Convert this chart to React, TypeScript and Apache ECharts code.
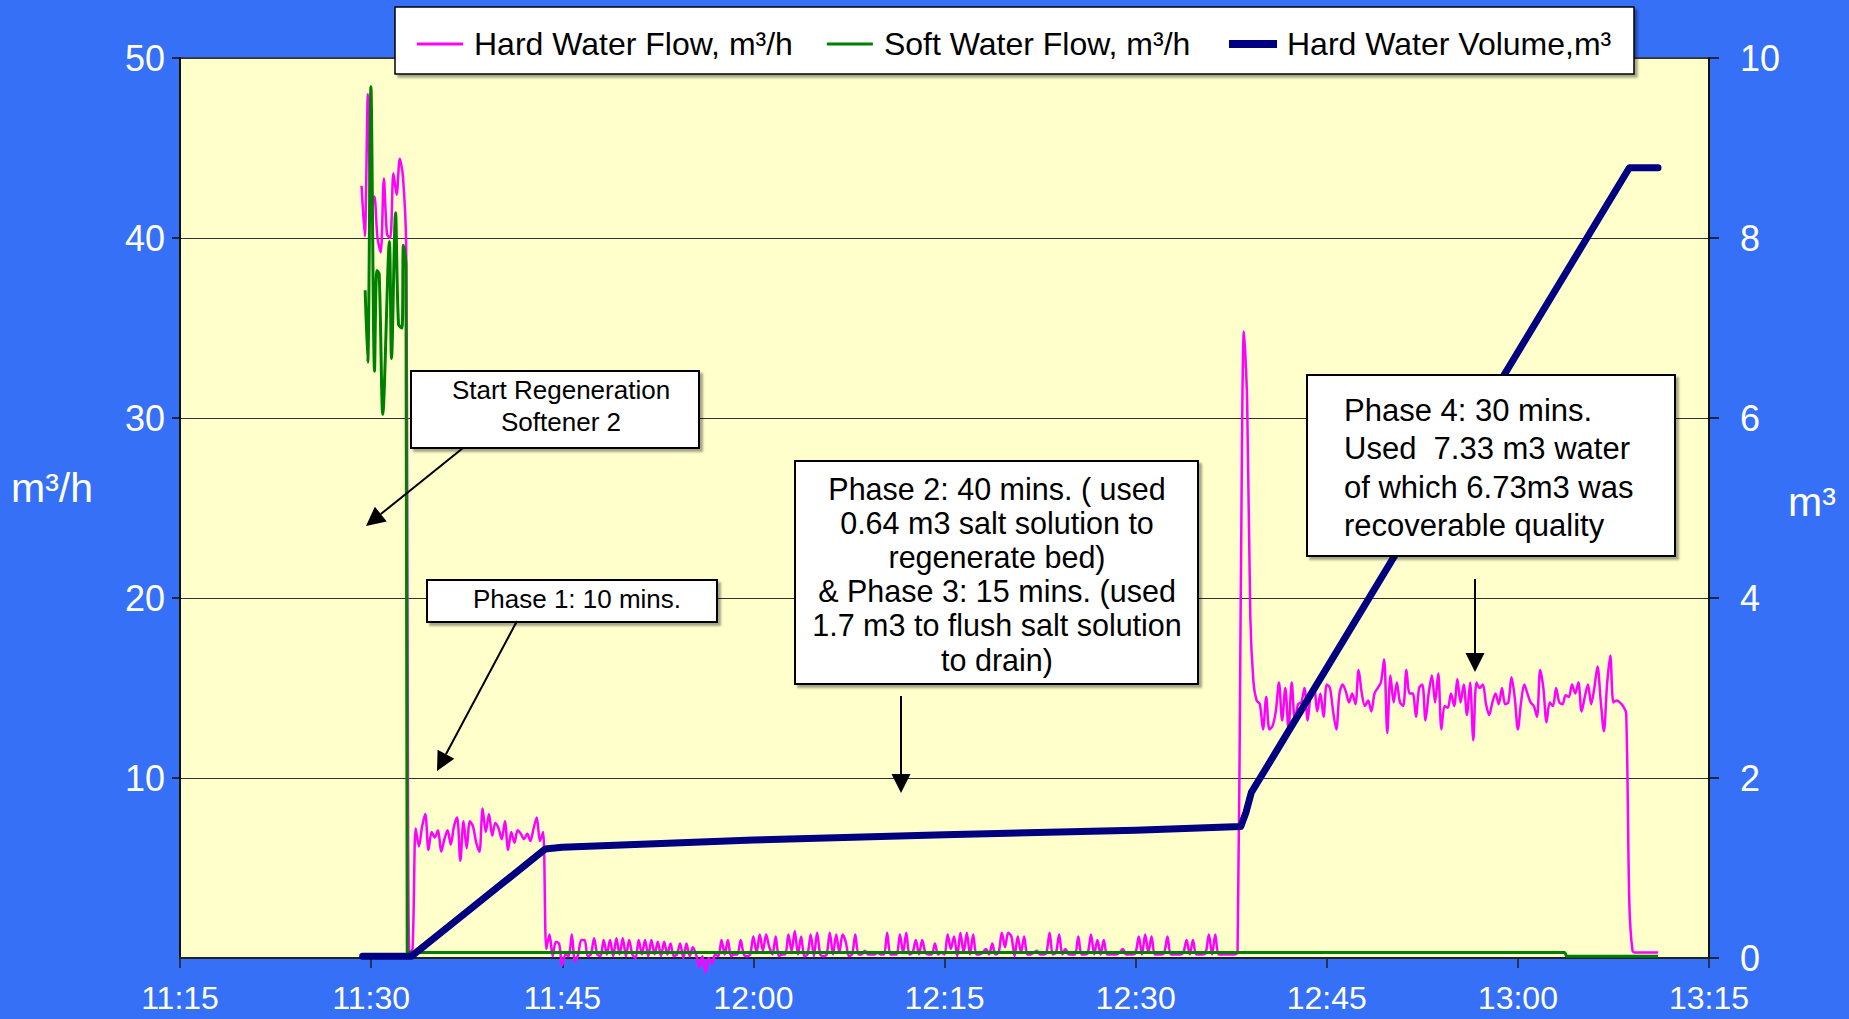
import React, { useEffect, useRef } from 'react';
import * as echarts from 'echarts';

// ---------- axis definitions ----------
const X_MIN = '11:15';
const X_MAX = '13:15';
const X_STEP_MIN = 15;
const LEFT_AXIS = { min: 0, max: 50, step: 10, title: 'm³/h' };
const RIGHT_AXIS = { min: 0, max: 10, step: 2, title: 'm³' };

const SERIES_NAMES = ['Hard Water Flow, m³/h', 'Soft Water Flow, m³/h', 'Hard Water Volume,m³'];

// ---------- Hard water flow (m³/h), sampled every 15 s from 11:29:15 ----------
const hardFlowStart = '11:29:15';
const hardFlowStepSec = 15;
const hardFlow = [
  42.9, 40.1, 48.0, 41.5, 42.3, 40.0, 39.2, 43.3, 40.2, 40.0,
  43.6, 42.4, 44.4, 43.4, 39.5, 0.3, 0.5, 7.2, 6.2, 7.3,
  8.0, 6.0, 7.0, 6.7, 7.1, 5.9, 6.6, 7.1, 6.3, 7.3,
  7.8, 5.4, 7.6, 6.1, 7.6, 7.3, 6.4, 5.9, 8.3, 7.0,
  8.0, 6.8, 7.5, 7.2, 6.6, 7.6, 6.0, 7.0, 6.4, 7.1,
  6.9, 6.6, 6.9, 6.5, 7.2, 7.8, 6.5, 7.0, 0.5, 1.3,
  0.1, 0.9, 0.8, -0.4, 0.2, 0.1, 1.3, -0.2, 0.2, 1.0,
  1.0, 0.1, 0.2, 1.1, 0.2, 0.1, 1.0, 0.2, 1.0, 0.1,
  1.1, 0.2, 1.1, 0.1, 1.0, 0.2, 0.0, 1.0, 0.2, 1.0,
  0.1, 1.0, 0.2, 0.9, 0.1, 0.9, 0.2, 0.8, 0.1, 0.2,
  0.8, 0.0, 0.8, 0.1, 0.6, 0.2, -0.5, 0.1, -0.8, 0.0,
  -0.3, 0.2, 0.1, 1.0, 0.2, 1.0, 0.1, 0.2, 0.2, 1.0,
  0.2, 0.1, 0.2, 1.2, 0.3, 1.3, 0.4, 1.3, 0.6, 0.2,
  1.2, 0.1, 0.2, 0.2, 1.3, 0.4, 1.5, 0.2, 1.2, 0.1,
  0.2, 1.3, 0.1, 1.4, 0.2, 0.1, 0.2, 1.4, 0.2, 1.3,
  0.3, 1.3, 0.9, 0.1, 0.2, 1.3, 0.2, 0.2, 0.4, 0.2,
  0.2, 0.2, 0.3, 0.2, 0.2, 1.4, 0.2, 0.2, 0.2, 1.3,
  0.3, 1.4, 0.2, 0.3, 1.0, 0.2, 1.0, 0.3, 0.2, 0.2,
  0.8, 0.2, 0.3, 0.2, 1.3, 0.5, 1.2, 0.1, 1.4, 0.3,
  1.4, 0.2, 1.3, 0.2, 0.2, 0.3, 0.5, 0.2, 0.8, 0.2,
  0.3, 1.4, 0.6, 1.4, 1.2, 0.1, 1.2, 0.3, 1.2, 0.2,
  0.2, 0.3, 0.4, 0.2, 0.2, 0.3, 1.4, 0.2, 0.3, 1.3,
  0.2, 0.5, 0.2, 0.2, 0.2, 1.2, 0.2, 0.2, 0.3, 1.3,
  0.2, 1.0, 0.2, 1.0, 0.2, 0.2, 0.2, 0.2, 0.3, 0.5,
  0.2, 0.2, 0.2, 0.3, 1.2, 0.2, 1.3, 0.3, 1.2, 0.2,
  0.2, 0.2, 0.3, 1.2, 0.2, 0.2, 0.2, 0.2, 0.3, 1.0,
  0.2, 1.0, 0.2, 0.2, 0.2, 0.3, 1.3, 0.2, 1.3, 0.2,
  0.2, 0.2, 0.2, 0.2, 0.2, 0.3, 20.0, 34.8, 31.0, 19.0,
  15.3, 14.3, 14.1, 12.7, 14.5, 12.7, 12.9, 13.7, 15.3, 13.2,
  15.0, 12.7, 15.3, 13.2, 14.1, 14.2, 15.0, 13.2, 14.7, 15.0,
  13.7, 14.7, 13.4, 15.2, 15.0, 13.7, 12.7, 14.7, 15.2, 14.8,
  14.2, 14.7, 14.1, 16.0, 14.7, 14.0, 14.3, 13.7, 14.7, 15.0,
  15.3, 16.6, 12.5, 15.7, 14.2, 15.3, 14.2, 14.0, 16.0, 14.7,
  14.7, 13.4, 15.0, 15.2, 13.2, 14.7, 15.7, 14.2, 15.8, 12.7,
  14.0, 13.9, 14.7, 14.0, 15.5, 14.2, 15.2, 13.5, 15.3, 12.1,
  15.3, 15.0, 15.2, 14.1, 13.5, 14.2, 14.7, 14.1, 15.0, 14.1,
  14.2, 15.6, 14.5, 12.7, 14.2, 15.2, 14.7, 14.2, 14.0, 13.4,
  16.0, 15.0, 13.1, 14.2, 14.0, 15.0, 14.2, 14.1, 14.6, 14.5,
  15.2, 14.7, 15.3, 13.7, 14.5, 15.2, 14.1, 15.0, 16.2, 14.3,
  12.6, 15.2, 16.8, 14.2, 14.3, 14.2, 14.0, 13.6, 3.0, 0.4,
  0.3, 0.3, 0.3, 0.3, 0.3, 0.3, 0.3, 0.3,
];

// ---------- Soft water flow (m³/h) ----------
const softFlowTimes = [
  '11:29:32', '11:29:44', '11:29:59', '11:30:16', '11:30:27', '11:30:38', '11:30:55',
  '11:31:26', '11:31:36', '11:31:55', '11:32:09', '11:32:25', '11:32:32', '11:32:44',
  '11:32:50', '13:03:40', '13:03:50', '13:11:00',
];
const softFlowValues = [
  37.1, 33.1, 48.4, 32.6, 38.2, 38.0, 30.2,
  39.8, 33.3, 41.4, 35.2, 35.0, 39.6, 38.5,
  0.3, 0.3, 0.1, 0.1,
];

// ---------- Hard water volume (m³), right axis ----------
const volumeTimes = [
  '11:29:20', '11:33:10', '11:43:40', '11:45:00', '12:00:00', '12:15:00', '12:30:00',
  '12:38:15', '12:38:40', '12:39:05', '12:40:20', '13:08:45', '13:11:00',
];
const volumeValues = [0.02, 0.02, 1.21, 1.23, 1.31, 1.37, 1.42, 1.46, 1.62, 1.84, 2.13, 8.78, 8.78];

// ---------- annotations ----------
const annotationTexts = {
  start: 'Start Regeneration\nSoftener 2',
  phase1: 'Phase 1: 10 mins.',
  phase23: 'Phase 2: 40 mins. ( used\n0.64 m3 salt solution to\nregenerate bed)\n& Phase 3: 15 mins. (used\n1.7 m3 to flush salt solution\nto drain)',
  phase4: 'Phase 4: 30 mins.\nUsed  7.33 m3 water\nof which 6.73m3 was\nrecoverable quality',
};

const FONT = 'Arial, "Liberation Sans", Helvetica, sans-serif';

const toMin = (s: string) => {
  const p = s.split(':').map(Number);
  return p[0] * 60 + p[1] + (p[2] || 0) / 60;
};
const fmt = (v: number) => {
  const h = Math.floor(v / 60);
  const m = Math.round(v - h * 60);
  return `${h}:${m < 10 ? '0' + m : m}`;
};

function arrow(x1: number, y1: number, x2: number, y2: number) {
  const L = 19, W = 9.5;
  const dx = x2 - x1, dy = y2 - y1;
  const len = Math.sqrt(dx * dx + dy * dy);
  const ux = dx / len, uy = dy / len;
  const bx = x2 - ux * L, by = y2 - uy * L;
  const px = -uy, py = ux;
  return [
    { type: 'line', z: 100, shape: { x1, y1, x2: bx, y2: by }, style: { stroke: '#000', lineWidth: 2 } },
    {
      type: 'polygon', z: 100,
      shape: { points: [[x2, y2], [bx + px * W, by + py * W], [bx - px * W, by - py * W]] },
      style: { fill: '#000' },
    },
  ];
}

function box(x: number, y: number, w: number, h: number, lw = 2) {
  return {
    type: 'rect', z: 100,
    shape: { x, y, width: w, height: h },
    style: {
      fill: '#fff', stroke: '#000', lineWidth: lw,
      shadowBlur: 2, shadowOffsetX: 3, shadowOffsetY: 3, shadowColor: 'rgba(0,0,0,0.35)',
    },
  };
}

function label(text: string, x: number, y: number, size: number, lh: number, align = 'center') {
  return {
    type: 'text', z: 101, x, y,
    style: {
      text, fill: '#000', fontSize: size, fontFamily: FONT,
      align, verticalAlign: 'middle', lineHeight: lh,
    },
  };
}

export default function App() {
  const ref = useRef<HTMLDivElement>(null);

  useEffect(() => {
    if (!ref.current) return;
    const chart = echarts.init(ref.current, null, { renderer: 'svg' });

    const t0 = toMin(hardFlowStart);
    const hardData = hardFlow.map((v, i) => [t0 + (i * hardFlowStepSec) / 60, v]);
    const softData = softFlowTimes.map((t, i) => [toMin(t), softFlowValues[i]]);
    const volData = volumeTimes.map((t, i) => [toMin(t), volumeValues[i]]);

    const axisLabelStyle = { color: '#fff', fontFamily: FONT };

    const elements: any[] = [
      // legend frame
      box(395, 7, 1239, 67, 1.5),
      // axis titles
      { type: 'text', z: 101, x: 11, y: 488, style: { text: LEFT_AXIS.title, fill: '#fff', fontSize: 41, fontFamily: FONT, align: 'left', verticalAlign: 'middle' } },
      { type: 'text', z: 101, x: 1788, y: 502, style: { text: RIGHT_AXIS.title, fill: '#fff', fontSize: 41, fontFamily: FONT, align: 'left', verticalAlign: 'middle' } },
      // Start regeneration
      box(411, 371, 288, 77),
      label(annotationTexts.start, 561, 406, 26, 32),
      ...arrow(463, 448, 366, 526),
      // Phase 1
      box(427, 580, 290, 42),
      label(annotationTexts.phase1, 577, 599, 26, 32),
      ...arrow(517, 621, 437, 771),
      // Phase 2 & 3
      box(795, 461, 403, 223),
      label(annotationTexts.phase23, 997, 574, 30.5, 34.2),
      ...arrow(901, 696, 901, 793),
      // Phase 4
      box(1307, 375, 368, 181),
      label(annotationTexts.phase4, 1344, 468, 31, 38.4, 'left'),
      ...arrow(1475, 579, 1475, 672),
    ];

    chart.setOption({
      animation: false,
      backgroundColor: '#3670F7',
      textStyle: { fontFamily: FONT },
      grid: {
        left: 180, right: 140, top: 58, bottom: 61,
        show: true, backgroundColor: '#FFFFCC', borderColor: '#333', borderWidth: 1.5,
      },
      legend: [
        {
          data: [
            { name: SERIES_NAMES[0], icon: 'rect' },
            { name: SERIES_NAMES[1], icon: 'rect' },
          ],
          left: 412, top: 23, itemWidth: 46, itemHeight: 3, itemGap: 34,
          selectedMode: false, z: 110,
          textStyle: {
            fontSize: 32, color: '#000', fontFamily: FONT, padding: [0, 0, 0, 6],
          },
        },
        {
          data: [{ name: SERIES_NAMES[2], icon: 'rect' }],
          left: 1224, top: 23, itemWidth: 48, itemHeight: 8,
          selectedMode: false, z: 110,
          textStyle: { fontSize: 32, color: '#000', fontFamily: FONT, padding: [0, 0, 0, 5] },
        },
      ],
      xAxis: {
        type: 'value',
        min: toMin(X_MIN), max: toMin(X_MAX), interval: X_STEP_MIN,
        axisLine: { show: true, lineStyle: { color: '#222', width: 2 } },
        axisTick: { show: true, length: 10, lineStyle: { color: '#222', width: 1.5 } },
        axisLabel: {
          ...axisLabelStyle, fontSize: 32, lineHeight: 32, margin: 24, formatter: fmt,
          showMinLabel: true, showMaxLabel: true,
        },
        splitLine: { show: false },
      },
      yAxis: [
        {
          type: 'value', position: 'left',
          min: LEFT_AXIS.min, max: LEFT_AXIS.max, interval: LEFT_AXIS.step,
          axisLine: { show: true, lineStyle: { color: '#111', width: 2 } },
          axisTick: { show: true, length: 8, lineStyle: { color: '#111', width: 1.5 } },
          axisLabel: { ...axisLabelStyle, fontSize: 36, margin: 15, showMinLabel: false },
          splitLine: { show: true, lineStyle: { color: '#333', width: 1 } },
        },
        {
          type: 'value', position: 'right',
          min: RIGHT_AXIS.min, max: RIGHT_AXIS.max, interval: RIGHT_AXIS.step,
          axisLine: { show: true, lineStyle: { color: '#111', width: 2 } },
          axisTick: { show: true, length: 10, lineStyle: { color: '#111', width: 1.5 } },
          axisLabel: { ...axisLabelStyle, fontSize: 36, margin: 31 },
          splitLine: { show: false },
        },
      ],
      series: [
        {
          name: SERIES_NAMES[0], type: 'line', xAxisIndex: 0, yAxisIndex: 0,
          data: hardData, symbol: 'none', showSymbol: false, smooth: 0.3, clip: false,
          color: '#FF00FF', itemStyle: { color: '#FF00FF' },
          lineStyle: { color: '#FF00FF', width: 2.5 }, z: 2,
        },
        {
          name: SERIES_NAMES[1], type: 'line', xAxisIndex: 0, yAxisIndex: 0,
          data: softData, symbol: 'none', showSymbol: false, smooth: 0.3,
          color: '#008000', itemStyle: { color: '#008000' },
          lineStyle: { color: '#008000', width: 3 }, z: 3,
        },
        {
          name: SERIES_NAMES[2], type: 'line', xAxisIndex: 0, yAxisIndex: 1,
          data: volData, symbol: 'none', showSymbol: false,
          color: '#000080', itemStyle: { color: '#000080' },
          lineStyle: { color: '#000080', width: 7, join: 'round', cap: 'round' }, z: 4,
        },
      ],
      graphic: { elements },
    });

    return () => chart.dispose();
  }, []);

  return (
    <div
      ref={ref}
      style={{ position: 'fixed', left: 0, top: 0, width: 1849, height: 1019 }}
    />
  );
}
